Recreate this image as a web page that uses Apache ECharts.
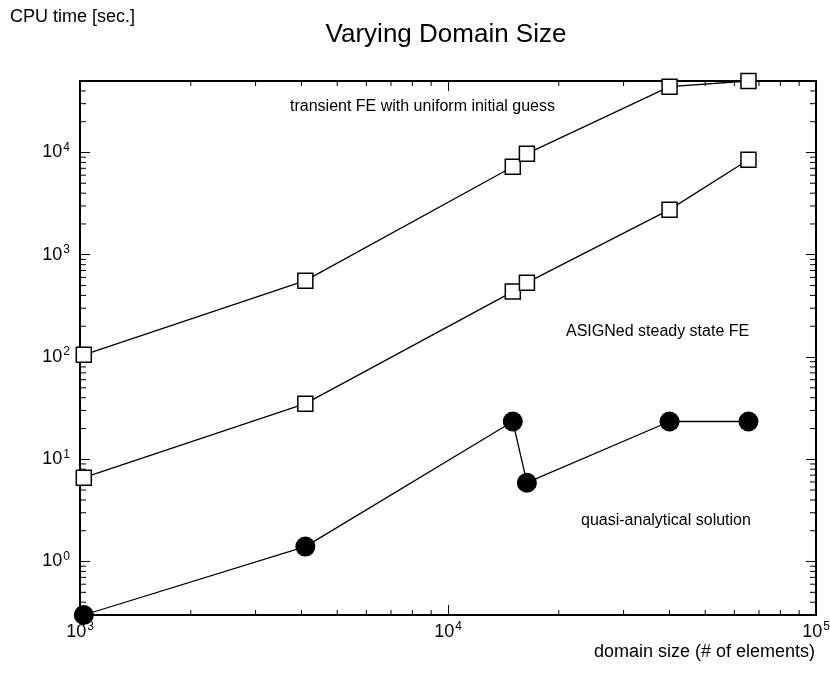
<!DOCTYPE html>
<html>
<head>
<meta charset="utf-8">
<script src="https://cdn.jsdelivr.net/npm/echarts@6/dist/echarts.min.js"></script>
<style>
  html, body { margin: 0; padding: 0; background: #fff; }
  #chart { width: 830px; height: 673px; }
</style>
</head>
<body>
<div id="chart"></div>
<script>
// domain sizes (# of elements)
const domainSize = [1024, 4096, 15000, 16384, 40000, 65536];

// CPU time [sec.]
const transientFE = [105, 558, 7260, 9730, 44000, 50000];
const asignedFE = [6.6, 35, 436, 533, 2760, 8500];
const quasiAnalytical = [0.3, 1.4, 23.4, 5.9, 23.4, 23.4];

// minor tick values
const xMinorTicks = [2000, 3000, 4000, 5000, 6000, 7000, 8000, 9000,
    20000, 30000, 40000, 50000, 60000, 70000, 80000, 90000];
const yMinorTicks = [0.4, 0.5, 0.6, 0.7, 0.8, 0.9,
    2, 3, 4, 5, 6, 7, 8, 9,
    20, 30, 40, 50, 60, 70, 80, 90,
    200, 300, 400, 500, 600, 700, 800, 900,
    2000, 3000, 4000, 5000, 6000, 7000, 8000, 9000,
    20000, 30000, 40000];

const X_MIN = 1000, X_MAX = 100000;
const Y_MIN = 0.3, Y_MAX = 50000;

const FONT = '"Liberation Sans", Arial, Helvetica, sans-serif';

function powLabel(value) {
    const e = Math.log10(value);
    const r = Math.round(e);
    if (Math.abs(e - r) > 1e-6) return '';
    return '{b|10}{s|' + r + '}';
}

const labelRich = {
    b: { fontSize: 18, fontFamily: FONT, color: '#000' },
    s: { fontSize: 12, fontFamily: FONT, color: '#000', padding: [0, 0, 10, 1] }
};

function zip(xs, ys) {
    return xs.map((x, i) => [x, ys[i]]);
}

const chart = echarts.init(document.getElementById('chart'));

const lineCommon = {
    type: 'line',
    clip: false,
    lineStyle: { color: '#000', width: 1.3 },
    z: 3
};

chart.setOption({
    animation: false,
    backgroundColor: '#fff',
    grid: { left: 80, right: 14, top: 81, bottom: 58, containLabel: false, outerBoundsMode: 'none' },
    xAxis: [{
        type: 'log',
        logBase: 10,
        min: X_MIN,
        max: X_MAX,
        position: 'bottom',
        axisLine: { lineStyle: { color: '#000', width: 2 } },
        axisTick: { inside: true, length: 10, lineStyle: { color: '#000', width: 1 } },
        axisLabel: {
            margin: 6,
            formatter: powLabel,
            rich: labelRich
        },
        splitLine: { show: false }
    }, {
        type: 'log',
        logBase: 10,
        min: X_MIN,
        max: X_MAX,
        position: 'top',
        axisLine: { lineStyle: { color: '#000', width: 2 } },
        axisTick: { inside: true, length: 10, lineStyle: { color: '#000', width: 1 } },
        axisLabel: { show: false },
        splitLine: { show: false }
    }],
    yAxis: [{
        type: 'log',
        logBase: 10,
        min: Y_MIN,
        max: Y_MAX,
        position: 'left',
        axisLine: { lineStyle: { color: '#000', width: 2 } },
        axisTick: { inside: true, length: 10, lineStyle: { color: '#000', width: 1 } },
        axisLabel: {
            margin: 10,
            showMinLabel: false,
            showMaxLabel: false,
            formatter: powLabel,
            rich: labelRich
        },
        splitLine: { show: false }
    }, {
        type: 'log',
        logBase: 10,
        min: Y_MIN,
        max: Y_MAX,
        position: 'right',
        axisLine: { lineStyle: { color: '#000', width: 2 } },
        axisTick: { inside: true, length: 10, lineStyle: { color: '#000', width: 1 } },
        axisLabel: { show: false },
        splitLine: { show: false }
    }],
    graphic: [{
        type: 'text',
        x: 446,
        y: 22,
        style: {
            text: 'Varying Domain Size',
            font: '26px ' + FONT,
            fill: '#000',
            align: 'center'
        }
    }, {
        type: 'text',
        left: 10,
        top: 8,
        style: {
            text: 'CPU time [sec.]',
            font: '18px ' + FONT,
            fill: '#000'
        }
    }, {
        type: 'text',
        right: 15,
        top: 643,
        style: {
            text: 'domain size (# of elements)',
            font: '18px ' + FONT,
            fill: '#000'
        }
    }, {
        type: 'text',
        left: 290,
        top: 99,
        style: {
            text: 'transient FE with uniform initial guess',
            font: '16px ' + FONT,
            fill: '#000'
        }
    }, {
        type: 'text',
        left: 566,
        top: 324,
        style: {
            text: 'ASIGNed steady state FE',
            font: '16px ' + FONT,
            fill: '#000'
        }
    }, {
        type: 'text',
        left: 581,
        top: 513,
        style: {
            text: 'quasi-analytical solution',
            font: '16px ' + FONT,
            fill: '#000'
        }
    }],
    series: [
        Object.assign({}, lineCommon, {
            name: 'transient FE with uniform initial guess',
            symbol: 'rect',
            symbolSize: 15,
            itemStyle: { color: '#fff', borderColor: '#000', borderWidth: 1.5 },
            data: zip(domainSize, transientFE)
        }),
        Object.assign({}, lineCommon, {
            name: 'ASIGNed steady state FE',
            symbol: 'rect',
            symbolSize: 15,
            itemStyle: { color: '#fff', borderColor: '#000', borderWidth: 1.5 },
            data: zip(domainSize, asignedFE)
        }),
        Object.assign({}, lineCommon, {
            name: 'quasi-analytical solution',
            symbol: 'circle',
            symbolSize: 20,
            itemStyle: { color: '#000', borderColor: '#000', borderWidth: 0 },
            data: zip(domainSize, quasiAnalytical)
        }),
        {
            // minor ticks on the bottom / top frame
            type: 'custom',
            silent: true,
            z: 2,
            renderItem: function(params, api) {
                const p = api.coord([api.value(0), 1]);
                const cs = params.coordSys;
                const st = { stroke: '#000', lineWidth: 1 };
                return {
                    type: 'group',
                    children: [
                        { type: 'line', shape: { x1: p[0], y1: cs.y + cs.height, x2: p[0], y2: cs.y + cs.height - 5 }, style: st },
                        { type: 'line', shape: { x1: p[0], y1: cs.y, x2: p[0], y2: cs.y + 5 }, style: st }
                    ]
                };
            },
            data: xMinorTicks.map(v => [v, 1])
        },
        {
            // minor ticks on the left / right frame
            type: 'custom',
            silent: true,
            z: 2,
            renderItem: function(params, api) {
                const p = api.coord([10000, api.value(1)]);
                const cs = params.coordSys;
                const st = { stroke: '#000', lineWidth: 1 };
                return {
                    type: 'group',
                    children: [
                        { type: 'line', shape: { x1: cs.x, y1: p[1], x2: cs.x + 6, y2: p[1] }, style: st },
                        { type: 'line', shape: { x1: cs.x + cs.width, y1: p[1], x2: cs.x + cs.width - 6, y2: p[1] }, style: st }
                    ]
                };
            },
            data: yMinorTicks.map(v => [10000, v])
        }
    ]
});
</script>
</body>
</html>
